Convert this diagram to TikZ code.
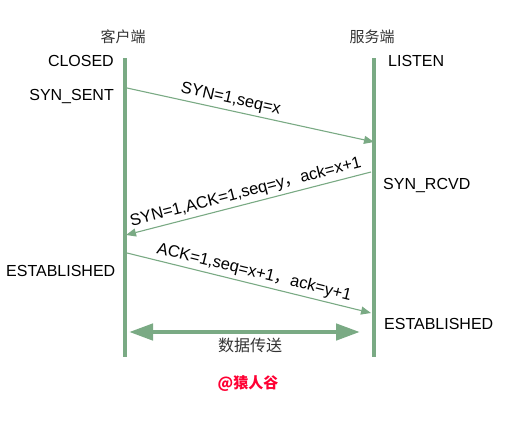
\documentclass[tikz,border=0pt]{standalone}
\usepackage{fontspec}
\setmainfont{Liberation Sans}
\newfontfamily\cjk{Noto Sans CJK SC}
\usetikzlibrary{arrows.meta}
\definecolor{lg}{RGB}{122,170,132}
\definecolor{wm}{RGB}{255,0,51}
\begin{document}
\begin{tikzpicture}[x=1pt,y=-1pt,
  life/.style={draw=lg,line width=4.5pt},
  msg/.style={draw=lg,line width=1.1pt,-{Triangle[length=10pt,width=8pt]}},
  lbl/.style={font=\fontsize{16.5}{18}\selectfont,text=black,inner sep=3pt},
  st/.style={font=\fontsize{16}{18}\selectfont,text=black,inner sep=0pt},
  head/.style={font=\cjk\fontsize{15}{17}\selectfont,text=black!80,inner sep=0pt}]
\useasboundingbox (0,0) rectangle (517,424);
% lifelines
\coordinate (ct) at (125,58); \coordinate (cb) at (125,357);
\coordinate (st) at (374,58); \coordinate (sb) at (374,357);
\draw[life] (ct) -- (cb);
\draw[life] (st) -- (sb);
% headings
\node[head] (hc) at (123,37) {客户端};
\node[head] (hs) at (372,37) {服务端};
% states
\node[st,anchor=east] (closed) at (114,61) {CLOSED};
\node[st,anchor=east] (sent) at (114,96) {SYN\_SENT};
\node[st,anchor=west] (listen) at (388,61) {LISTEN};
\node[st,anchor=west] (rcvd) at (383,185) {SYN\_RCVD};
\node[st,anchor=west] (estc) at (6,271) {ESTABLISHED};
\node[st,anchor=west] (ests) at (384,324) {ESTABLISHED};
% messages
\coordinate (a1) at (127,88); \coordinate (b1) at (374,142);
\coordinate (a2) at (371,172); \coordinate (b2) at (126,235);
\coordinate (a3) at (127,253); \coordinate (b3) at (371,313);
\draw[msg] (a1) -- node[lbl,sloped,above,pos=0.41] (m1) {SYN=1,seq=x} (b1);
\draw[msg] (a2) -- node[lbl,sloped,above,pos=0.5] (m2) {SYN=1,ACK=1,seq=y{\cjk ，}ack=x+1} (b2);
\draw[msg] (a3) -- node[lbl,sloped,above,pos=0.51] (m3) {ACK=1,seq=x+1{\cjk ，}ack=y+1} (b3);
% data transfer
\coordinate (d1) at (129,332); \coordinate (d2) at (360,332);
\draw[draw=lg,line width=4.5pt,{Triangle[length=24pt,width=16pt]}-{Triangle[length=24pt,width=16pt]}] (d1) -- (d2);
\node[head,font=\cjk\fontsize{16}{18}\selectfont] (data) at (250,345) {数据传送};
% watermark
\node[font=\cjk\bfseries\fontsize{15}{17}\selectfont,text=wm,inner sep=0pt] (wmk) at (248,384) {@猿人谷};
\end{tikzpicture}
\end{document}
